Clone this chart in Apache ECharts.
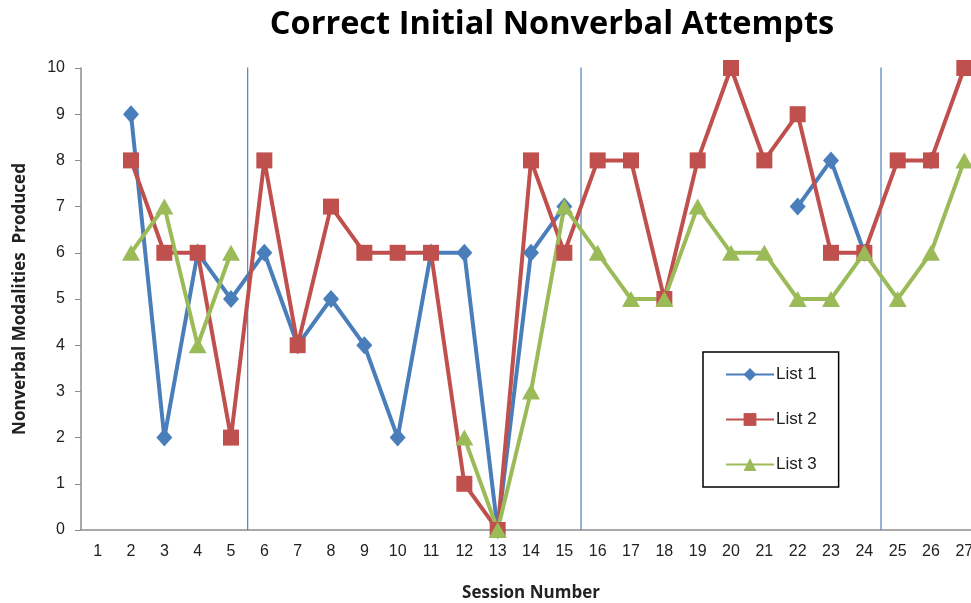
<!DOCTYPE html>
<html><head><meta charset="utf-8">
<script src="https://cdn.jsdelivr.net/npm/echarts@6/dist/echarts.min.js"></script>
<style>html,body{margin:0;padding:0;background:#fff}#c{width:971px;height:603px}</style>
</head><body><div id="c"></div>
<script>
var sessions = ['1','2','3','4','5','6','7','8','9','10','11','12','13','14','15','16','17','18','19','20','21','22','23','24','25','26','27'];
var list1 = [null,9,2,6,5,6,4,5,4,2,6,6,0,6,7,null,null,null,null,null,null,7,8,6,null,8,null];
var list2 = [null,8,6,6,2,8,4,7,6,6,6,1,0,8,6,8,8,5,8,10,8,9,6,6,8,8,10];
var list3 = [null,6,7,4,6,null,null,null,null,null,null,2,0,3,7,6,5,5,7,6,6,5,5,6,5,6,8];
var phaseBoundaries = [5.5, 15.5, 24.5];
var yTicks = [0,1,2,3,4,5,6,7,8,9,10];

var font = '"Liberation Sans Narrow","Liberation Sans",sans-serif';
var boundarySeries = phaseBoundaries.map(function(v){
  return {type:'line',xAxisIndex:1,data:[[v,0],[v,10.25]],symbol:'none',silent:true,
    lineStyle:{color:'#4f81bd',width:1.2},z:1};
});
var chart = echarts.init(document.getElementById('c'));
chart.setOption({
  animation:false,
  title:{text:'Correct Initial Nonverbal Attempts',left:547,textAlign:'center',top:3,
    textStyle:{fontFamily:'"Open Sans",sans-serif',fontWeight:'bold',fontSize:32.5,color:'#000'}},
  grid:{left:81,top:68,width:900,height:462,containLabel:false,outerBoundsMode:'none'},
  legend:{orient:'vertical',left:703,top:352,itemWidth:48,itemHeight:16,itemGap:28,
    padding:[14,22,14,22],borderColor:'#000',borderWidth:1.5,
    textStyle:{fontFamily:font,fontSize:17,color:'#222',padding:[0,0,0,-3]},
    data:['List 1','List 2','List 3']},
  xAxis:[{type:'category',data:sessions,boundaryGap:true,
    name:'Session Number',nameLocation:'middle',nameGap:55,
    nameTextStyle:{fontFamily:'"Open Sans",sans-serif',fontWeight:'bold',fontSize:17,color:'#222'},
    axisLine:{lineStyle:{color:'#8c8c8c',width:1.5}},axisTick:{show:false},
    axisLabel:{fontFamily:font,fontSize:16,color:'#222',margin:14,interval:0}},
   {type:'value',min:0.5,max:27.5,show:false}],
  yAxis:{type:'value',min:yTicks[0],max:yTicks[yTicks.length-1],interval:1,
    name:'Nonverbal Modalities  Produced',nameLocation:'middle',nameGap:52,nameRotate:90,
    nameTextStyle:{fontFamily:'"Open Sans",sans-serif',fontWeight:'bold',fontSize:17,color:'#222'},
    axisLine:{show:true,lineStyle:{color:'#8c8c8c',width:1.5}},
    axisTick:{show:true,length:6,lineStyle:{color:'#8c8c8c'}},
    splitLine:{show:false},
    axisLabel:{fontFamily:font,fontSize:16,color:'#222',margin:16}},
  series:boundarySeries.concat([
    {name:'List 1',type:'line',data:list1,symbol:'diamond',symbolSize:[16,18],
     itemStyle:{color:'#4a7ebb'},lineStyle:{width:4,color:'#4a7ebb'}},
    {name:'List 2',type:'line',data:list2,symbol:'rect',symbolSize:16,
     itemStyle:{color:'#c0504d'},lineStyle:{width:4,color:'#c0504d'}},
    {name:'List 3',type:'line',data:list3,symbol:'triangle',symbolSize:[18,16],
     itemStyle:{color:'#9bbb59'},lineStyle:{width:4,color:'#9bbb59'}}
  ])
});
</script></body></html>
